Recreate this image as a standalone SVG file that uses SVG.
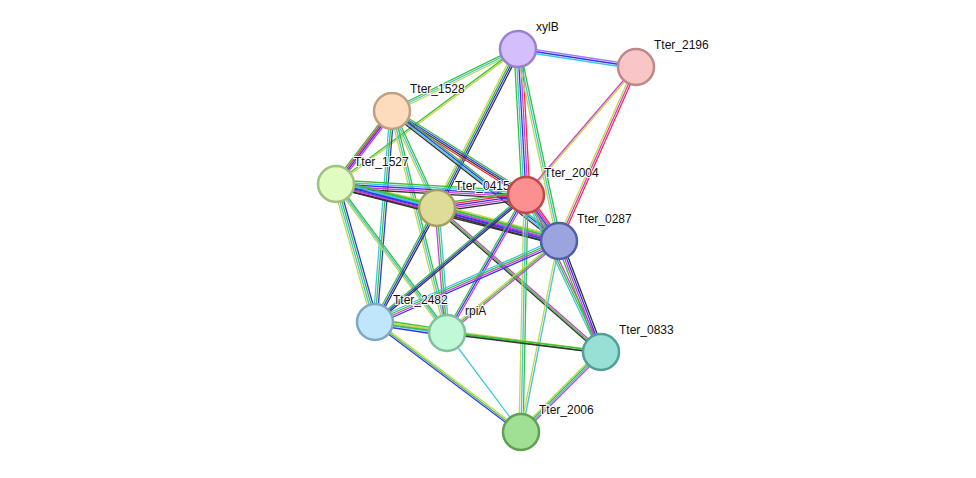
<svg xmlns="http://www.w3.org/2000/svg" xmlns:xlink="http://www.w3.org/1999/xlink" width="976" height="478" viewBox="0 0 976 478">
<style>
.n{stroke-width:2.5}
text{font-family:"Liberation Sans",Arial,sans-serif;font-size:12px;fill:#111;paint-order:stroke;stroke:#fff;stroke-width:2px}
use{fill:none;stroke-width:1.3}
.G{stroke:#3cc03c}.C{stroke:#3fc6e0}.Y{stroke:#c4d64a}.B{stroke:#3535f0}.K{stroke:#333}.R{stroke:#f53040}.M{stroke:#d040d0}.P{stroke:#a080f0}
</style>
<defs>
<line id="e1" x1="518" y1="49" x2="636" y2="67"/>
<line id="e2" x1="518" y1="49" x2="392" y2="111"/>
<line id="e3" x1="518" y1="49" x2="336" y2="184"/>
<line id="e4" x1="518" y1="49" x2="437" y2="208"/>
<line id="e5" x1="518" y1="49" x2="526" y2="195"/>
<line id="e6" x1="518" y1="49" x2="559" y2="241"/>
<line id="e7" x1="636" y1="67" x2="526" y2="195"/>
<line id="e8" x1="636" y1="67" x2="559" y2="241"/>
<line id="e9" x1="392" y1="111" x2="336" y2="184"/>
<line id="e10" x1="392" y1="111" x2="437" y2="208"/>
<line id="e11" x1="392" y1="111" x2="526" y2="195"/>
<line id="e12" x1="392" y1="111" x2="559" y2="241"/>
<line id="e13" x1="392" y1="111" x2="375" y2="322"/>
<line id="e14" x1="392" y1="111" x2="447" y2="333"/>
<line id="e15" x1="336" y1="184" x2="437" y2="208"/>
<line id="e16" x1="336" y1="184" x2="526" y2="195"/>
<line id="e17" x1="336" y1="184" x2="559" y2="241"/>
<line id="e18" x1="336" y1="184" x2="375" y2="322"/>
<line id="e19" x1="336" y1="184" x2="447" y2="333"/>
<line id="e20" x1="437" y1="208" x2="526" y2="195"/>
<line id="e21" x1="437" y1="208" x2="559" y2="241"/>
<line id="e22" x1="437" y1="208" x2="375" y2="322"/>
<line id="e23" x1="437" y1="208" x2="447" y2="333"/>
<line id="e24" x1="437" y1="208" x2="601" y2="352"/>
<line id="e26" x1="526" y1="195" x2="559" y2="241"/>
<line id="e27" x1="526" y1="195" x2="375" y2="322"/>
<line id="e28" x1="526" y1="195" x2="447" y2="333"/>
<line id="e29" x1="526" y1="195" x2="601" y2="352"/>
<line id="e30" x1="526" y1="195" x2="521" y2="432"/>
<line id="e31" x1="559" y1="241" x2="375" y2="322"/>
<line id="e32" x1="559" y1="241" x2="447" y2="333"/>
<line id="e33" x1="559" y1="241" x2="601" y2="352"/>
<line id="e34" x1="559" y1="241" x2="521" y2="432"/>
<line id="e35" x1="375" y1="322" x2="447" y2="333"/>
<line id="e36" x1="375" y1="322" x2="601" y2="352"/>
<line id="e37" x1="375" y1="322" x2="521" y2="432"/>
<line id="e38" x1="447" y1="333" x2="601" y2="352"/>
<line id="e39" x1="447" y1="333" x2="521" y2="432"/>
<line id="e40" x1="601" y1="352" x2="521" y2="432"/>
</defs>
<g id="edges">
<use href="#e1" class="P" transform="translate(0,-2)"/><use href="#e1" class="B"/><use href="#e1" class="C" transform="translate(0,2)"/>
<use href="#e2" class="G" transform="translate(0,-2)"/><use href="#e2" class="C"/><use href="#e2" class="Y" transform="translate(0,2)"/>
<use href="#e3" class="G" transform="translate(0,-1)"/><use href="#e3" class="Y" transform="translate(0,1)"/>
<use href="#e4" class="Y" transform="translate(-3,0)"/><use href="#e4" class="G" transform="translate(-1,0)"/><use href="#e4" class="B" transform="translate(1,0)"/><use href="#e4" class="K" transform="translate(3,0)"/>
<use href="#e5" class="G" transform="translate(-4,0)"/><use href="#e5" class="C" transform="translate(-2,0)"/><use href="#e5" class="B"/><use href="#e5" class="M" transform="translate(2,0)"/><use href="#e5" class="R" transform="translate(4,0)"/>
<use href="#e6" class="Y" transform="translate(-2,0)"/><use href="#e6" class="C"/><use href="#e6" class="G" transform="translate(2,0)"/>
<use href="#e7" class="M" transform="translate(-1,0)"/><use href="#e7" class="Y" transform="translate(1,0)"/>
<use href="#e8" class="Y" transform="translate(-2,0)"/><use href="#e8" class="M"/><use href="#e8" class="R" transform="translate(2,0)"/>
<use href="#e9" class="G" transform="translate(-3,0)"/><use href="#e9" class="R" transform="translate(-1,0)"/><use href="#e9" class="B" transform="translate(1,0)"/><use href="#e9" class="M" transform="translate(3,0)"/>
<use href="#e10" class="Y" transform="translate(-2,0)"/><use href="#e10" class="C"/><use href="#e10" class="G" transform="translate(2,0)"/>
<use href="#e11" class="G" transform="translate(0,-3)"/><use href="#e11" class="B" transform="translate(0,-1)"/><use href="#e11" class="K" transform="translate(0,1)"/><use href="#e11" class="R" transform="translate(0,3)"/>
<use href="#e12" class="G" transform="translate(0,-3)"/><use href="#e12" class="B" transform="translate(0,-1)"/><use href="#e12" class="C" transform="translate(0,1)"/><use href="#e12" class="K" transform="translate(0,3)"/>
<use href="#e13" class="C" transform="translate(-2,0)"/><use href="#e13" class="G"/><use href="#e13" class="B" transform="translate(2,0)"/>
<use href="#e14" class="Y" transform="translate(-2,0)"/><use href="#e14" class="C"/><use href="#e14" class="G" transform="translate(2,0)"/>
<use href="#e15" class="Y" transform="translate(0,-4)"/><use href="#e15" class="G" transform="translate(0,-2)"/><use href="#e15" class="C"/><use href="#e15" class="B" transform="translate(0,2)"/><use href="#e15" class="K" transform="translate(0,4)"/>
<use href="#e16" class="G" transform="translate(0,-4)"/><use href="#e16" class="C" transform="translate(0,-2)"/><use href="#e16" class="B"/><use href="#e16" class="M" transform="translate(0,2)"/><use href="#e16" class="K" transform="translate(0,4)"/>
<use href="#e17" class="G" transform="translate(0,-4)"/><use href="#e17" class="C" transform="translate(0,-2)"/><use href="#e17" class="B"/><use href="#e17" class="M" transform="translate(0,2)"/><use href="#e17" class="K" transform="translate(0,4)"/>
<use href="#e18" class="Y" transform="translate(-3,0)"/><use href="#e18" class="C" transform="translate(-1,0)"/><use href="#e18" class="G" transform="translate(1,0)"/><use href="#e18" class="B" transform="translate(3,0)"/>
<use href="#e19" class="Y" transform="translate(-2,0)"/><use href="#e19" class="C"/><use href="#e19" class="G" transform="translate(2,0)"/>
<use href="#e20" class="G" transform="translate(0,-4)"/><use href="#e20" class="R" transform="translate(0,-2)"/><use href="#e20" class="B"/><use href="#e20" class="M" transform="translate(0,2)"/><use href="#e20" class="K" transform="translate(0,4)"/>
<use href="#e21" class="Y" transform="translate(0,-4)"/><use href="#e21" class="G" transform="translate(0,-2)"/><use href="#e21" class="M"/><use href="#e21" class="B" transform="translate(0,2)"/><use href="#e21" class="K" transform="translate(0,4)"/>
<use href="#e22" class="G" transform="translate(-2,0)"/><use href="#e22" class="B"/><use href="#e22" class="K" transform="translate(2,0)"/>
<use href="#e23" class="M" transform="translate(-2,0)"/><use href="#e23" class="G"/><use href="#e23" class="C" transform="translate(2,0)"/>
<use href="#e24" class="M" transform="translate(0,-2)"/><use href="#e24" class="G"/><use href="#e24" class="K" transform="translate(0,2)"/>
<use href="#e26" class="G" transform="translate(-3,0)"/><use href="#e26" class="B" transform="translate(-1,0)"/><use href="#e26" class="M" transform="translate(1,0)"/><use href="#e26" class="R" transform="translate(3,0)"/>
<use href="#e27" class="G" transform="translate(0,-2)"/><use href="#e27" class="B"/><use href="#e27" class="K" transform="translate(0,2)"/>
<use href="#e28" class="G" transform="translate(-2,0)"/><use href="#e28" class="B"/><use href="#e28" class="M" transform="translate(2,0)"/>
<use href="#e29" class="C" transform="translate(-2,0)"/><use href="#e29" class="G"/><use href="#e29" class="M" transform="translate(2,0)"/>
<use href="#e30" class="Y" transform="translate(-2,0)"/><use href="#e30" class="C"/><use href="#e30" class="G" transform="translate(2,0)"/>
<use href="#e31" class="C" transform="translate(0,-3)"/><use href="#e31" class="G" transform="translate(0,-1)"/><use href="#e31" class="M" transform="translate(0,1)"/><use href="#e31" class="B" transform="translate(0,3)"/>
<use href="#e32" class="Y" transform="translate(0,-2)"/><use href="#e32" class="G"/><use href="#e32" class="M" transform="translate(0,2)"/>
<use href="#e33" class="G" transform="translate(-3,0)"/><use href="#e33" class="M" transform="translate(-1,0)"/><use href="#e33" class="B" transform="translate(1,0)"/><use href="#e33" class="K" transform="translate(3,0)"/>
<use href="#e34" class="Y" transform="translate(-1,0)"/><use href="#e34" class="C" transform="translate(1,0)"/>
<use href="#e35" class="G" transform="translate(0,-3)"/><use href="#e35" class="Y" transform="translate(0,-1)"/><use href="#e35" class="C" transform="translate(0,1)"/><use href="#e35" class="B" transform="translate(0,3)"/>
<use href="#e36" class="Y" transform="translate(0,-1)"/><use href="#e36" class="G" transform="translate(0,1)"/>
<use href="#e37" class="Y" transform="translate(0,-2)"/><use href="#e37" class="G"/><use href="#e37" class="B" transform="translate(0,2)"/>
<use href="#e38" class="G" transform="translate(0,-1)"/><use href="#e38" class="K" transform="translate(0,1)"/>
<use href="#e39" class="C"/>
<use href="#e40" class="Y" transform="translate(-3,0)"/><use href="#e40" class="G" transform="translate(-1,0)"/><use href="#e40" class="C" transform="translate(1,0)"/><use href="#e40" class="M" transform="translate(3,0)"/>
</g>
<g id="xylB"><circle class="n" cx="518" cy="49" r="18" fill="#d4bffc" stroke="#9a80d0"/><text x="536" y="31">xylB</text></g>
<g id="Tter_2196"><circle class="n" cx="636" cy="67" r="18" fill="#f8c6c6" stroke="#c08888"/><text x="654" y="49">Tter_2196</text></g>
<g id="Tter_1528"><circle class="n" cx="392" cy="111" r="18" fill="#fcdcbc" stroke="#c0a080"/><text x="410" y="93">Tter_1528</text></g>
<g id="Tter_1527"><circle class="n" cx="336" cy="184" r="18" fill="#e0fcc0" stroke="#a0c080"/><text x="354" y="166">Tter_1527</text></g>
<g id="Tter_0415"><circle class="n" cx="437" cy="208" r="18" fill="#dedc98" stroke="#a0a060"/><text x="455" y="190">Tter_0415</text></g>
<g id="Tter_2004"><circle class="n" cx="526" cy="195" r="18" fill="#fc9090" stroke="#c04848"/><text x="544" y="177">Tter_2004</text></g>
<g id="Tter_0287"><circle class="n" cx="559" cy="241" r="18" fill="#9ca4e0" stroke="#5060a8"/><text x="577" y="223">Tter_0287</text></g>
<g id="Tter_2482"><circle class="n" cx="375" cy="322" r="18" fill="#c0e6fc" stroke="#80a8c0"/><text x="393" y="304">Tter_2482</text></g>
<g id="rpiA"><circle class="n" cx="447" cy="333" r="18" fill="#c0f8d8" stroke="#80c0a0"/><text x="465" y="315">rpiA</text></g>
<g id="Tter_0833"><circle class="n" cx="601" cy="352" r="18" fill="#98e0d6" stroke="#50a098"/><text x="619" y="334">Tter_0833</text></g>
<g id="Tter_2006"><circle class="n" cx="521" cy="432" r="18" fill="#a0e094" stroke="#60a050"/><text x="539" y="414">Tter_2006</text></g>
</svg>
